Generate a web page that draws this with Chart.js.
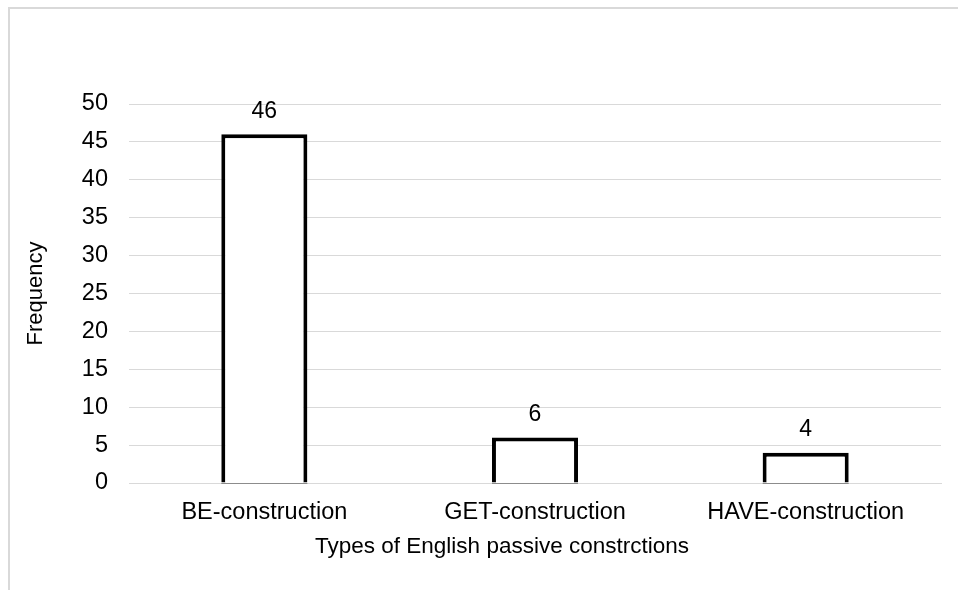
<!DOCTYPE html>
<html>
<head>
<meta charset="utf-8">
<script src="https://cdn.jsdelivr.net/npm/chart.js@4.4.1/dist/chart.umd.min.js"></script>
<style>
  html, body { margin: 0; padding: 0; background: #ffffff; overflow: hidden; }
  #wrap { position: relative; width: 958px; height: 590px; }
  canvas { display: block; }
</style>
</head>
<body>
<div id="wrap"><canvas id="c" width="958" height="590"></canvas></div>
<script>
const categories = ["BE-construction", "GET-construction", "HAVE-construction"];
const frequencies = [46, 6, 4];
const yTitle = "Frequency";
const xTitle = "Types of English passive constrctions";
const yMin = 0, yMax = 50, yStep = 5;

const FONT = "'Liberation Sans', Arial, sans-serif";

const frame = {
  id: 'frame',
  beforeDraw(chart) {
    const ctx = chart.ctx;
    ctx.save();
    ctx.fillStyle = '#ffffff';
    ctx.fillRect(0, 0, chart.width, chart.height);
    ctx.strokeStyle = '#d9d9d9';
    ctx.lineWidth = 2;
    ctx.strokeRect(9, 8, 1200, 1200);
    ctx.restore();
  }
};

const valueLabels = {
  id: 'valueLabels',
  afterDatasetsDraw(chart) {
    const ctx = chart.ctx;
    const meta = chart.getDatasetMeta(0);
    ctx.save();
    ctx.font = "23px " + FONT;
    ctx.fillStyle = '#000000';
    ctx.textAlign = 'center';
    ctx.textBaseline = 'middle';
    meta.data.forEach((bar, i) => {
      ctx.fillText(String(chart.data.datasets[0].data[i]), bar.x, bar.y - 23);
      // darker base line under each bar, as in the original
      const props = bar.getProps(['x', 'base', 'width'], true);
      ctx.strokeStyle = '#8c8c8c';
      ctx.lineWidth = 1;
      ctx.beginPath();
      ctx.moveTo(props.x - props.width / 2, Math.round(props.base) + 0.5);
      ctx.lineTo(props.x + props.width / 2, Math.round(props.base) + 0.5);
      ctx.stroke();
    });
    ctx.restore();
  }
};

// x-axis title, centred on the whole chart frame (as in the original), not on the plot area
const xAxisTitle = {
  id: 'xAxisTitle',
  afterDraw(chart) {
    const ctx = chart.ctx;
    ctx.save();
    ctx.font = "22.5px " + FONT;
    ctx.fillStyle = '#000000';
    ctx.textAlign = 'center';
    ctx.textBaseline = 'middle';
    ctx.fillText(xTitle, 502, 547);
    ctx.restore();
  }
};

new Chart(document.getElementById('c'), {
  type: 'bar',
  data: {
    labels: categories,
    datasets: [{
      data: frequencies,
      backgroundColor: '#ffffff',
      borderColor: '#000000',
      borderWidth: 4,
      borderSkipped: 'bottom',
      categoryPercentage: 1,
      barPercentage: 0.318
    }]
  },
  options: {
    responsive: false,
    devicePixelRatio: 1,
    animation: false,
    layout: { padding: { left: 0, top: 104, right: 17, bottom: 0 } },
    plugins: { legend: { display: false }, tooltip: { enabled: false } },
    scales: {
      y: {
        min: yMin, max: yMax,
        afterFit(scale) { scale.width = 129; },
        ticks: { stepSize: yStep, padding: 21, color: '#000000', font: { family: FONT, size: 23.5 } },
        grid: { color: '#d9d9d9', lineWidth: 1, drawTicks: false },
        border: { display: false },
        title: { display: true, text: yTitle, color: '#000000', font: { family: FONT, size: 22 }, padding: { top: 23, bottom: 0 } }
      },
      x: {
        afterFit(scale) { scale.height = 107; },
        ticks: { padding: 15, color: '#000000', font: { family: FONT, size: 23.5 }, maxRotation: 0 },
        grid: { display: false, drawTicks: false },
        border: { display: true, color: '#d9d9d9', width: 1 },
        title: { display: false }
      }
    }
  },
  plugins: [frame, valueLabels, xAxisTitle]
});
</script>
</body>
</html>
